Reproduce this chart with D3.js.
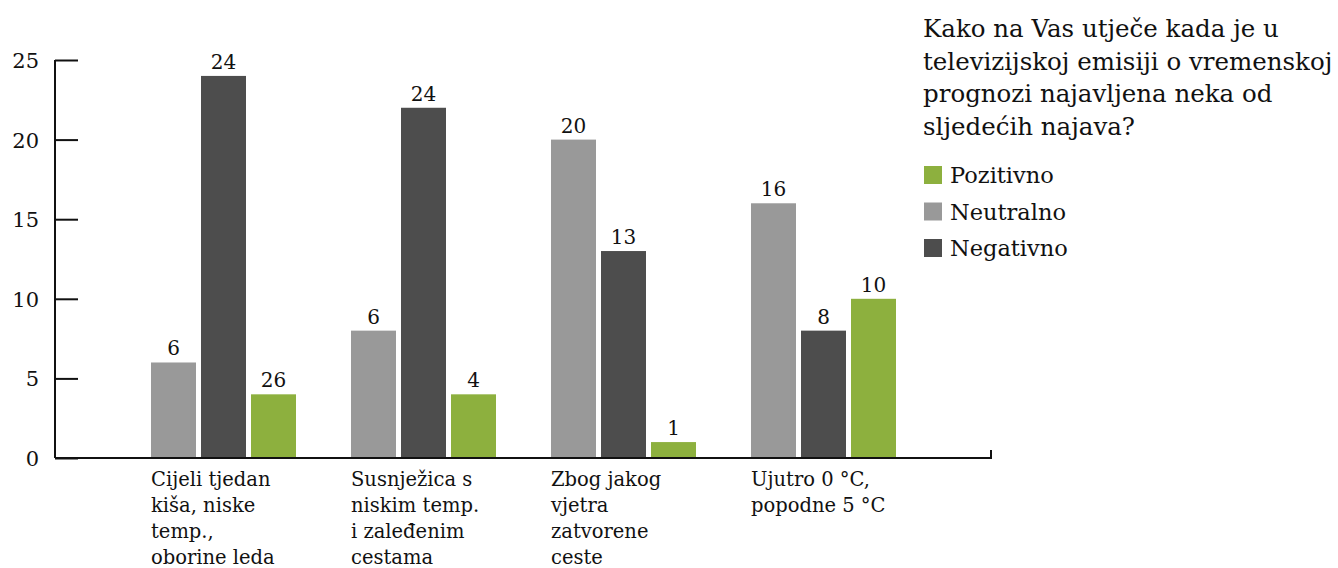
<!DOCTYPE html>
<html><head><meta charset="utf-8">
<script src="https://cdn.jsdelivr.net/npm/d3@7"></script>
<style>body{margin:0;background:#fff}svg{display:block}text{font-family:"DejaVu Serif",serif;fill:#111}</style>
</head><body>
<svg id="c" width="1338" height="568"></svg>
<script>
const categories = [
  ["Cijeli tjedan","kiša, niske","temp.,","oborine leda"],
  ["Susnježica s","niskim temp.","i zaleđenim","cestama"],
  ["Zbog jakog","vjetra","zatvorene","ceste"],
  ["Ujutro 0 °C,","popodne 5 °C"]
];
const seriesNames = ["Neutralno","Negativno","Pozitivno"];
const neutralno = [6, 8, 20, 16];
const negativno = [24, 22, 13, 8];
const pozitivno = [4, 4, 1, 10];
const neutralnoLabels = ["6","6","20","16"];
const negativnoLabels = ["24","24","13","8"];
const pozitivnoLabels = ["26","4","1","10"];
const legendNames = ["Pozitivno","Neutralno","Negativno"];
const yTicks = [0,5,10,15,20,25];
const titleLines = ["Kako na Vas utječe kada je u","televizijskoj emisiji o vremenskoj","prognozi najavljena neka od","sljedećih najava?"];
const colors = {Pozitivno:"#8db03e", Neutralno:"#999999", Negativno:"#4d4d4d"};

const values = {Neutralno: neutralno, Negativno: negativno, Pozitivno: pozitivno};
const labels = {Neutralno: neutralnoLabels, Negativno: negativnoLabels, Pozitivno: pozitivnoLabels};

const svg = d3.select("#c");
const catIdx = categories.map((d,i)=>i);
const x0 = d3.scaleBand().domain(catIdx).range([123, 923]);
const x1 = d3.scaleBand().domain(seriesNames).range([28, 173]).paddingInner(0.1);
const y = d3.scaleLinear().domain([0,25]).range([458, 60]);

// bars
const g = svg.append("g");
catIdx.forEach(i=>{
  seriesNames.forEach(s=>{
    const v = values[s][i];
    const bx = x0(i) + x1(s);
    g.append("rect").attr("x", bx).attr("y", y(v)).attr("width", x1.bandwidth())
      .attr("height", y(0)-y(v)).attr("fill", colors[s]);
    g.append("text").attr("x", bx + x1.bandwidth()/2).attr("y", y(v)-7)
      .attr("text-anchor","middle").attr("font-size", 20).text(labels[s][i]);
  });
});

// y axis
const yAxis = d3.axisRight(y).tickValues(yTicks).tickSize(23).tickFormat("");
const ya = svg.append("g").attr("transform","translate(55,0)").call(yAxis);
ya.select(".domain").attr("stroke","#111").attr("stroke-width",2).attr("d", `M0,${y(25)}V${y(0)}`);
ya.selectAll(".tick line").attr("stroke","#111").attr("stroke-width",2);
yTicks.forEach(t=>{
  svg.append("text").attr("x", 39).attr("y", y(t)+8).attr("text-anchor","end")
    .attr("font-size", 21).text(t);
});

// x axis line
svg.append("path").attr("d", `M55,${y(0)}H991V${y(0)-8}`).attr("fill","none")
  .attr("stroke","#111").attr("stroke-width",2);

// category labels
catIdx.forEach(i=>{
  const t = svg.append("text").attr("x", x0(i)+x1(seriesNames[0])).attr("y", 486).attr("font-size", 19.5);
  categories[i].forEach((l,k)=>{
    t.append("tspan").attr("x", x0(i)+x1(seriesNames[0])).attr("dy", k===0?0:26).text(l);
  });
});

// title
const tt = svg.append("text").attr("x", 923).attr("y", 37).attr("font-size", 24.5);
titleLines.forEach((l,k)=>tt.append("tspan").attr("x",923).attr("dy", k===0?0:32.7).text(l));

// legend
legendNames.forEach((n,k)=>{
  const cy = 175 + k*36.5;
  svg.append("rect").attr("x",924).attr("y",cy-9).attr("width",18).attr("height",18).attr("fill",colors[n]);
  svg.append("text").attr("x",950).attr("y",cy+8).attr("font-size",22.5).text(n);
});
</script>
</body></html>
